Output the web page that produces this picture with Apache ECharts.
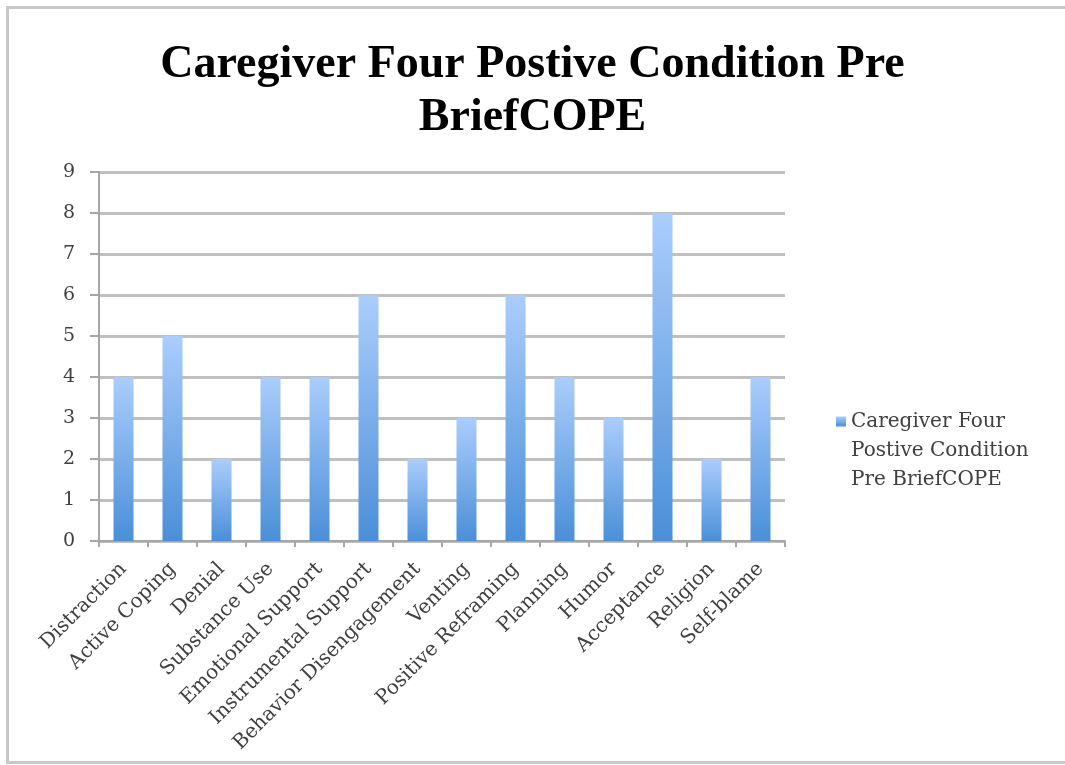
<!DOCTYPE html>
<html>
<head>
<meta charset="utf-8">
<script src="https://cdn.jsdelivr.net/npm/echarts@6/dist/echarts.min.js"></script>
<style>
  html, body { margin: 0; padding: 0; background: #fff; }
  #chart { width: 1065px; height: 765px; }
</style>
</head>
<body>
<div id="chart"></div>
<script>
// data
const categories = ['Distraction', 'Active Coping', 'Denial', 'Substance Use', 'Emotional Support',
  'Instrumental Support', 'Behavior Disengagement', 'Venting', 'Positive Reframing', 'Planning',
  'Humor', 'Acceptance', 'Religion', 'Self-blame']
const scores = [4, 5, 2, 4, 4, 6, 2, 3, 6, 4, 3, 8, 2, 4]
const seriesName = 'Caregiver Four Postive Condition Pre BriefCOPE'
const yTicks = [0, 9, 1] // min, max, interval

const chart = echarts.init(document.getElementById('chart'))
const serif = '"DejaVu Serif", "Liberation Serif", serif'

chart.setOption({
  animation: false,
  title: {
    text: 'Caregiver Four Postive Condition Pre\nBriefCOPE',
    left: 'center',
    top: 34,
    textStyle: {
      fontFamily: '"Liberation Serif", serif',
      fontSize: 46,
      fontWeight: 'bold',
      color: '#000',
      lineHeight: 53
    }
  },
  graphic: [{
    type: 'rect',
    shape: { x: 7.5, y: 7.5, width: 1080, height: 755 },
    style: { fill: 'none', stroke: '#c8c8c8', lineWidth: 3 },
    silent: true
  }],
  legend: {
    data: [seriesName],
    orient: 'vertical',
    left: 831,
    top: 344,
    icon: 'rect',
    itemWidth: 10,
    itemHeight: 10,
    itemGap: 6,
    // two empty lines first so the marker sits beside the first line
    formatter: () => '\n\nCaregiver Four\nPostive Condition\nPre BriefCOPE',
    textStyle: {
      fontFamily: serif,
      fontSize: 20,
      color: '#404040',
      lineHeight: 29
    }
  },
  grid: { left: 99, right: 280, top: 172, bottom: 224, containLabel: false },
  xAxis: {
    type: 'category',
    data: categories,
    axisLine: { lineStyle: { color: '#a6a6a6', width: 2 } },
    axisTick: { show: true, length: 6, lineStyle: { color: '#a6a6a6', width: 2 } },
    axisLabel: {
      rotate: 45,
      interval: 0,
      margin: 25,
      fontFamily: serif,
      fontSize: 20,
      color: '#404040'
    }
  },
  yAxis: {
    type: 'value',
    min: yTicks[0],
    max: yTicks[1],
    interval: yTicks[2],
    axisLine: { show: true, lineStyle: { color: '#a6a6a6', width: 2 } },
    axisTick: { show: true, length: 9, lineStyle: { color: '#a6a6a6', width: 2 } },
    splitLine: { lineStyle: { color: '#c0c0c0', width: 3 } },
    axisLabel: {
      margin: 24,
      fontFamily: serif,
      fontSize: 19,
      color: '#404040'
    }
  },
  series: [{
    name: seriesName,
    type: 'bar',
    data: scores,
    barWidth: 20,
    itemStyle: {
      color: new echarts.graphic.LinearGradient(0, 0, 0, 1, [
        { offset: 0, color: '#abcdfc' },
        { offset: 1, color: '#4a8fd8' }
      ])
    }
  }]
})
</script>
</body>
</html>
